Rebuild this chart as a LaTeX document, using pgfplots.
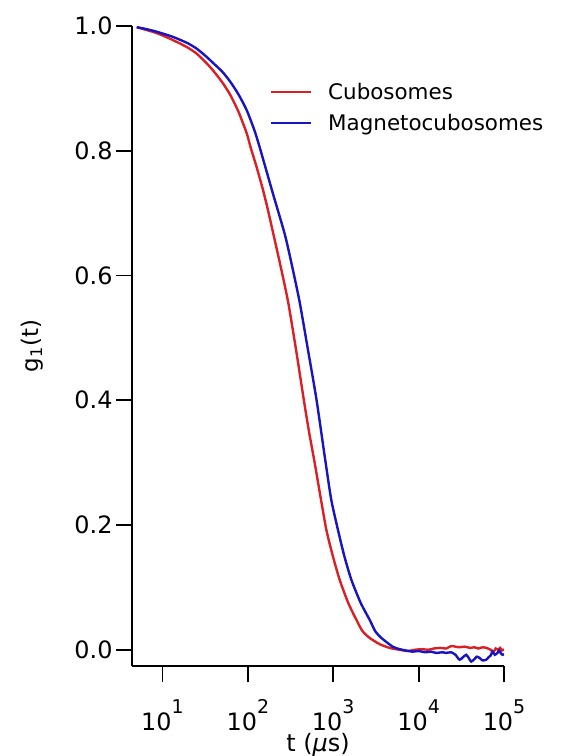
\documentclass[border=0pt]{standalone}
\usepackage{pgfplots}
\pgfplotsset{compat=1.18}
\usepackage{fontspec}
\setmainfont{DejaVu Sans}
\definecolor{cred}{RGB}{218,32,36}
\definecolor{cblue}{RGB}{24,20,192}
\newcommand{\dec}[1]{10\raisebox{0.7em}{\fontsize{19}{19}\selectfont #1}}
\begin{document}
\begin{tikzpicture}
\path[use as bounding box] (-132bp,-90bp) rectangle (436bp,666bp);
\begin{axis}[
  scale only axis,
  width=372bp, height=640bp,
  xmode=log,
  xmin=4.4, xmax=1e5,
  ymin=-0.026, ymax=1.0,
  axis x line=bottom, axis y line=left,
  axis line style={-, line width=1.8bp},
  tick align=outside,
  major tick length=16bp,
  every tick/.style={black, line width=1.8bp},
  minor tick num=0,
  xminorticks=false,
  xtick={10,100,1000,10000,100000},
  xticklabels={\dec{1},\dec{2},\dec{3},\dec{4},\dec{5}},
  xticklabel style={yshift=-14bp},
  ytick={0,0.2,0.4,0.6,0.8,1.0},
  yticklabel style={/pgf/number format/fixed, /pgf/number format/fixed zerofill,
    /pgf/number format/precision=1},
  /pgf/number format/assume math mode=true,
  tick label style={font=\fontsize{24}{26}\selectfont},
  xlabel={t ({\itshape μ}s)},
  xlabel style={at={(axis description cs:0.5,0)}, anchor=base, yshift=-85bp,
    font=\fontsize{24}{26}\selectfont},
  ylabel={g\textsubscript{1}(t)},
  ylabel style={at={(axis description cs:0,0.5)}, anchor=center, yshift=100bp,
    font=\fontsize{23}{26}\selectfont},
  legend style={draw=none, fill=none, at={(axis description cs:0.37,0.914)},
    anchor=north west, font=\fontsize{21.5}{24}\selectfont,
    row sep=9bp, inner sep=0pt},
  legend cell align=left,
  legend image code/.code={\draw[#1] (0bp,0bp) -- (40bp,0bp); \path (54bp,0bp);},
]
\addplot[cred, line width=2.4bp, smooth, tension=0.4] coordinates {
(5.0,0.998) (6,0.995) (8,0.990) (10,0.985) (13,0.978) (16,0.972) (20,0.965)
(25,0.956) (32,0.942) (39,0.929) (50,0.910) (62,0.890) (78,0.862) (97,0.828)
(108,0.805) (126,0.775) (150,0.738) (170,0.708) (198,0.668) (240,0.617)
(296,0.558) (370,0.478) (452,0.401) (520,0.350) (608,0.299) (700,0.250)
(832,0.192) (1000,0.148) (1191,0.112) (1500,0.075) (1868,0.048) (2200,0.030)
(2672,0.019) (3500,0.009) (4580,0.003) (6000,0.000) (7500,-0.002) (9000,0.000)
(11000,0.001) (13000,0.000) (15000,0.002) (18000,0.003) (21000,0.002)
(24000,0.006) (27000,0.005) (30000,0.004) (35000,0.005) (40000,0.003)
(45000,0.004) (50000,0.002) (56000,0.004) (62000,0.003) (70000,0.000)
(75000,-0.004) (80000,0.002) (85000,0.000) (90000,0.003) (95000,-0.001)
(100000,0.001)
};
\addlegendentry{Cubosomes}
\addplot[cblue, line width=2.4bp, smooth, tension=0.4] coordinates {
(5.0,0.998) (6,0.996) (8,0.992) (10,0.988) (13,0.983) (16,0.978) (20,0.972)
(25,0.964) (32,0.952) (39,0.941) (50,0.927) (62,0.911) (78,0.890) (97,0.865)
(120,0.832) (138,0.805) (158,0.777) (200,0.728) (271,0.666) (330,0.615)
(405,0.557) (500,0.485) (637,0.401) (817,0.299) (950,0.240) (1137,0.192)
(1350,0.150) (1633,0.112) (2100,0.075) (2672,0.048) (3100,0.030) (3664,0.019)
(4966,0.005) (6000,0.001) (7000,-0.001) (8510,-0.003) (10000,-0.002)
(12000,-0.004) (14000,-0.003) (16000,-0.005) (19000,-0.004) (21000,-0.005)
(24000,-0.004) (27000,-0.008) (30130,-0.016) (33000,-0.012) (36100,-0.008)
(39000,-0.014) (41300,-0.019) (45000,-0.015) (48000,-0.011) (51700,-0.013)
(56000,-0.017) (61900,-0.016) (66000,-0.012) (70000,-0.009) (73300,-0.003)
(78000,-0.008) (83900,-0.005) (88000,-0.001) (92000,-0.006) (96000,-0.008)
(100000,-0.007)
};
\addlegendentry{Magnetocubosomes}
\end{axis}
\end{tikzpicture}
\end{document}
